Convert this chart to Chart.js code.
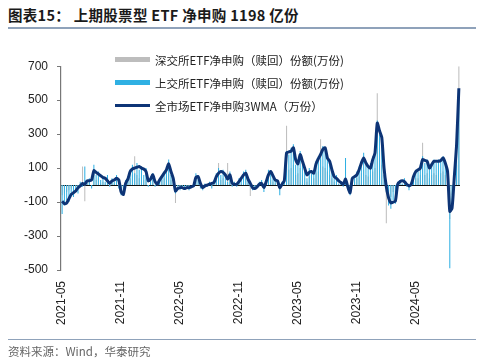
<!DOCTYPE html>
<html>
<head>
<meta charset="utf-8">
<script src="https://cdn.jsdelivr.net/npm/chart.js@4.4.1/dist/chart.umd.min.js"></script>
<style>
  body { margin: 0; background: #fff; width: 481px; height: 362px; overflow: hidden; position: relative;
         font-family: "Liberation Sans", "Noto Sans CJK SC", sans-serif; }
  #title { position: absolute; left: 8px; top: 4px; font-size: 14.5px; font-weight: bold; color: #1a1a1a;
           font-family: "Noto Sans CJK SC", sans-serif; letter-spacing: 0.3px; }
  .rule { position: absolute; left: 8px; width: 468px; background: #8fa2ba; }
  #wrap { position: absolute; left: 0; top: 50px; width: 481px; height: 290px; }
  #legend { position: absolute; left: 115px; top: 48px; font-size: 11.5px; color: #222;
            font-family: "Noto Sans CJK SC", sans-serif; }
  #legend div { height: 23px; display: flex; align-items: center; }
  #legend span.sw { display: inline-block; width: 35px; margin-right: 5px; }
  #source { position: absolute; left: 8px; top: 343px; font-size: 11.5px; color: #666;
            font-family: "Noto Sans CJK SC", sans-serif; }
</style>
</head>
<body>
<div id="title">图表15： 上期股票型 ETF 净申购 1198 亿份</div>
<div class="rule" style="top:27px;height:2px;"></div>
<div id="wrap"><canvas id="etfChart"></canvas></div>
<div id="legend">
  <div><span class="sw" style="height:5px;background:#bdbdbd;"></span>深交所ETF净申购（赎回）份额(万份)</div>
  <div><span class="sw" style="height:5px;background:#2fb0e3;"></span>上交所ETF净申购（赎回）份额(万份)</div>
  <div><span class="sw" style="height:3px;background:#0d3476;"></span>全市场ETF净申购3WMA（万份）</div>
</div>
<div class="rule" style="top:339px;height:1px;"></div>
<div id="source">资料来源：Wind，华泰研究</div>

<script>
// 周度数据，起始周
const startDate = '2021-05-14';

// 上交所 ETF 净申购（赎回）份额
const shValues = [
  -170, -120, -90, -100, -60, -70, -30, -50, 20, -10,
  110, 30, 40, -20, 120, 60, 80, 30, 50, 20,
  60, -10, 40, 20, 60, -20, -60, -40, 30, 50,
  90, 120, 70, 130, 90, 110, 60, 100, -10, 50,
  70, -10, 20, 40, 60, 80, 110, 150, 60, 20,
  -50, -10, -30, -10, -20, -10, -30, 0, -10, 70,
  60, -20, -30, 10, -10, 20, -20, 30, 70, 100,
  60, 90, 40, 20, 80, -10, 20, -10, 40, 30,
  80, 90, 40, -10, -30, -20, -10, 20, 30, -40,
  30, 90, 70, 40, 30, 10, -60, 20, 40, 200,
  180, 220, 240, 120, 150, 200, 120, 90, 40, 100,
  70, 80, 140, 170, 190, 230, 200, 170, 120, 80,
  40, 60, 10, 20, -10, 160, -30, -60, 50, 40,
  80, 110, 140, 190, 120, 100, 130, 170, 210, 380,
  300, 250, 60, -40, -120, -140, -90, -110, 20, 30,
  10, 40, -10, -30, 20, 60, 90, 80, 120, 170,
  130, 150, 90, 130, 150, 130, 150, 140, 170, 120,
  60, -490, -120, 60, 250, 560
];

// 深交所 ETF 净申购（赎回）份额
const szValues = [
  -60, -50, -40, -30, -20, -30, -10, -20, 10, 110,
  -95, 10, 20, -10, 95, 30, 40, 10, 20, 10,
  30, -5, 20, 10, 30, -10, -30, -20, 10, 20,
  40, 60, 170, 60, 40, 50, 30, 40, -5, 20,
  30, -5, 10, 20, 30, 40, 50, 70, 30, 10,
  -105, -5, -10, -5, -10, -5, -10, 0, -5, 30,
  30, -10, -10, 5, -5, 10, -10, 10, 30, 130,
  30, 40, 20, 130, 40, -5, 10, -5, 20, 10,
  40, 40, 20, -65, -10, -10, -5, 10, 10, -20,
  10, 40, 30, 20, 10, 5, -30, 10, 20, 350,
  90, 100, 120, 60, 70, 100, 60, 40, 20, 50,
  30, 40, 70, 80, 270, 110, 100, 80, 60, 40,
  20, 30, 5, 10, -5, 80, -10, -30, 20, 20,
  40, 50, 70, 90, 60, 50, 60, 80, 100, 540,
  150, 120, 30, -225, -60, -70, -40, -50, 10, 10,
  5, 20, -5, -10, 10, 30, 40, 40, 60, 250,
  60, 70, 40, 60, 70, 60, 70, 70, 80, 60,
  30, -200, -60, 30, 120, 700
];

// 全市场 ETF 净申购 3WMA
const wmaValues = [
  -95, -110, -105, -80, -55, -45, -35, -15, -5, 10,
  5, 25, 25, 30, 85, 75, 65, 55, 45, 40,
  25, 10, 25, 30, 40, 30, -40, -55, 10, 35,
  80, 95, 100, 105, 110, 100, 95, 80, 25, 35,
  60, 20, 5, 30, 50, 70, 90, 125, 80, 40,
  -35, -20, -15, -15, -20, -15, -15, -10, -5, 45,
  50, 10, -15, -5, 0, 5, 10, 15, 50, 70,
  80, 75, 60, 35, 60, 10, 5, 5, 20, 40,
  60, 70, 35, 10, -15, -20, -10, 5, 10, -15,
  20, 60, 80, 55, 30, 25, -15, 5, 25, 190,
  195, 200, 220, 150, 125, 180, 140, 100, 60, 75,
  80, 70, 125, 155, 180, 210, 220, 160, 140, 90,
  50, 40, 25, 15, 5, 35, -10, -45, 40, 50,
  60, 90, 130, 160, 130, 110, 100, 150, 190, 365,
  320, 280, 100, -10, -75, -105, -100, -95, 5, 20,
  25, 20, 5, -5, 5, 50, 80, 90, 100, 150,
  145, 140, 100, 120, 140, 140, 140, 145, 160, 130,
  80, -155, -135, 50, 240, 570
];

const yTicks = [-500, -300, -100, 100, 300, 500, 700];
const labelEvery = 26;

// 周度日期标签
const weekLabels = [];
const d0 = new Date(startDate + 'T00:00:00Z');
for (let i = 0; i < wmaValues.length; i++) {
  const d = new Date(d0.getTime() + i * 7 * 86400000);
  weekLabels.push(d.toISOString().slice(0, 10));
}

const zeroLine = {
  id: 'zeroLine',
  beforeDatasetsDraw(chart) {
    const { ctx, chartArea, scales } = chart;
    const y = Math.round(scales.y.getPixelForValue(0)) + 0.5;
    ctx.save();
    ctx.strokeStyle = '#111';
    ctx.lineWidth = 1.2;
    ctx.beginPath();
    ctx.moveTo(chartArea.left, y);
    ctx.lineTo(chartArea.right, y);
    ctx.stroke();
    ctx.restore();
  }
};

const ctx = document.getElementById('etfChart').getContext('2d');
new Chart(ctx, {
  data: {
    labels: weekLabels,
    datasets: [
      {
        type: 'bar',
        label: '深交所ETF净申购（赎回）份额(万份)',
        data: szValues,
        backgroundColor: '#bdbdbd',
        grouped: false,
        barPercentage: 0.45,
        categoryPercentage: 1,
        order: 3
      },
      {
        type: 'bar',
        label: '上交所ETF净申购（赎回）份额(万份)',
        data: shValues,
        backgroundColor: '#2fb0e3',
        grouped: false,
        barPercentage: 0.45,
        categoryPercentage: 1,
        order: 2
      },
      {
        type: 'line',
        label: '全市场ETF净申购3WMA（万份）',
        data: wmaValues,
        borderColor: '#0d3476',
        borderWidth: 3,
        pointRadius: 0,
        tension: 0.2,
        order: 1
      }
    ]
  },
  options: {
    responsive: true,
    maintainAspectRatio: false,
    animation: false,
    layout: { padding: { top: 9, right: 21, left: 0, bottom: 0 } },
    scales: {
      x: {
        grid: { display: false },
        border: { display: false },
        ticks: {
          autoSkip: false,
          maxRotation: 90,
          minRotation: 90,
          color: '#222',
          font: { family: '"Liberation Sans", Arial, sans-serif', size: 12 },
          callback: function (val, idx) {
            return idx % labelEvery === 0 ? weekLabels[idx].slice(0, 7) : null;
          }
        },
        afterFit: (scale) => { scale.height = 70; }
      },
      y: {
        min: -500,
        max: 700,
        afterBuildTicks: (scale) => { scale.ticks = yTicks.map(v => ({ value: v })); },
        grid: { drawOnChartArea: false, drawTicks: true, tickLength: 4, color: '#777' },
        border: { display: true, color: '#777', width: 1.2 },
        ticks: {
          color: '#222',
          padding: 9,
          font: { family: '"Liberation Sans", Arial, sans-serif', size: 12 }
        },
        afterFit: (scale) => { scale.width = 61; }
      }
    },
    plugins: {
      legend: { display: false },
      tooltip: { enabled: false }
    }
  },
  plugins: [zeroLine]
});
</script>
</body>
</html>
